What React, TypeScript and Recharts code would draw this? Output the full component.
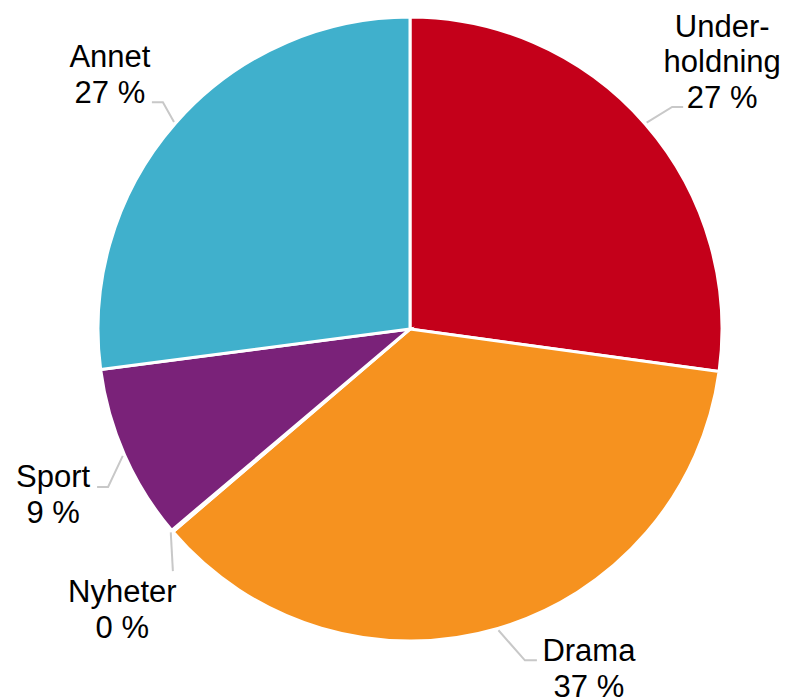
import { Cell, Pie, PieChart } from "recharts";

const CATEGORIES = ["Underholdning", "Drama", "Nyheter", "Sport", "Annet"];
const LABEL_TEXT = ["Under-\nholdning", "Drama", "Nyheter", "Sport", "Annet"];
const SHARES = [27.2, 36.6, 0.1, 9.1, 27.1];
const COLORS = ["#c4001a", "#f6921f", "#9a9a9a", "#7a2279", "#40b0cc"];

const data = CATEGORIES.map((name, i) => ({
  name,
  label: LABEL_TEXT[i],
  value: SHARES[i],
}));

// label placement relative to the slice's outer edge point
// ex/ey = elbow, endX = end of horizontal tail, tx = text centre, ty = first baseline
const LABEL_LAYOUT: Record<string, { ex: number; ey: number; endX: number; tx: number; ty: number }> = {
  Underholdning: { ex: 27, ey: -17, endX: 38, tx: 77, ty: -87 },
  Drama: { ex: 27, ey: 32, endX: 39, tx: 91, ty: 33 },
  Nyheter: { ex: 0.6, ey: 40, endX: 0.6, tx: -50, ty: 71 },
  Sport: { ex: -16.5, ey: 32, endX: -27.5, tx: -71.5, ty: 32 },
  Annet: { ex: -12.6, ey: -21, endX: -23.6, tx: -65.6, ty: -56 },
};

const RAD = Math.PI / 180;
const LINE_GAP = 35.5;

function renderLabel(props: any) {
  const { cx, cy, midAngle, outerRadius, payload, value } = props;
  const name = payload?.name ?? props.name;
  const lay = LABEL_LAYOUT[name];
  if (!lay) return null;
  const px = cx + outerRadius * Math.cos(-midAngle * RAD);
  const py = cy + outerRadius * Math.sin(-midAngle * RAD);
  const sx = px + 2 * Math.cos(-midAngle * RAD);
  const sy = py + 2 * Math.sin(-midAngle * RAD);
  const lines = [...String(payload?.label ?? name).split("\n"), `${Math.round(value)} %`];
  return (
    <g key={name}>
      <polyline
        points={`${sx},${sy} ${px + lay.ex},${py + lay.ey} ${px + lay.endX},${py + lay.ey}`}
        fill="none"
        stroke="#c8c8c8"
        strokeWidth={2}
      />
      <text
        x={px + lay.tx}
        y={py + lay.ty}
        textAnchor="middle"
        fill="#000"
        fontSize={31}
        fontFamily="'Liberation Sans', Arial, sans-serif"
      >
        {lines.map((t, i) => (
          <tspan key={i} x={px + lay.tx} dy={i === 0 ? 0 : LINE_GAP}>
            {t}
          </tspan>
        ))}
      </text>
    </g>
  );
}

export default function App() {
  return (
    <div style={{ position: "absolute", left: 0, top: 0, width: 788, height: 699, background: "#fff" }}>
      <PieChart width={788} height={699} margin={{ top: 0, right: 0, bottom: 0, left: 0 }}>
        <Pie
          data={data}
          dataKey="value"
          nameKey="name"
          cx={410}
          cy={329}
          outerRadius={312}
          startAngle={90}
          endAngle={-270}
          stroke="#fff"
          strokeWidth={3}
          labelLine={false}
          label={renderLabel}
          isAnimationActive={false}
        >
          {data.map((d, i) => (
            <Cell key={d.name} fill={COLORS[i]} />
          ))}
        </Pie>
      </PieChart>
    </div>
  );
}
